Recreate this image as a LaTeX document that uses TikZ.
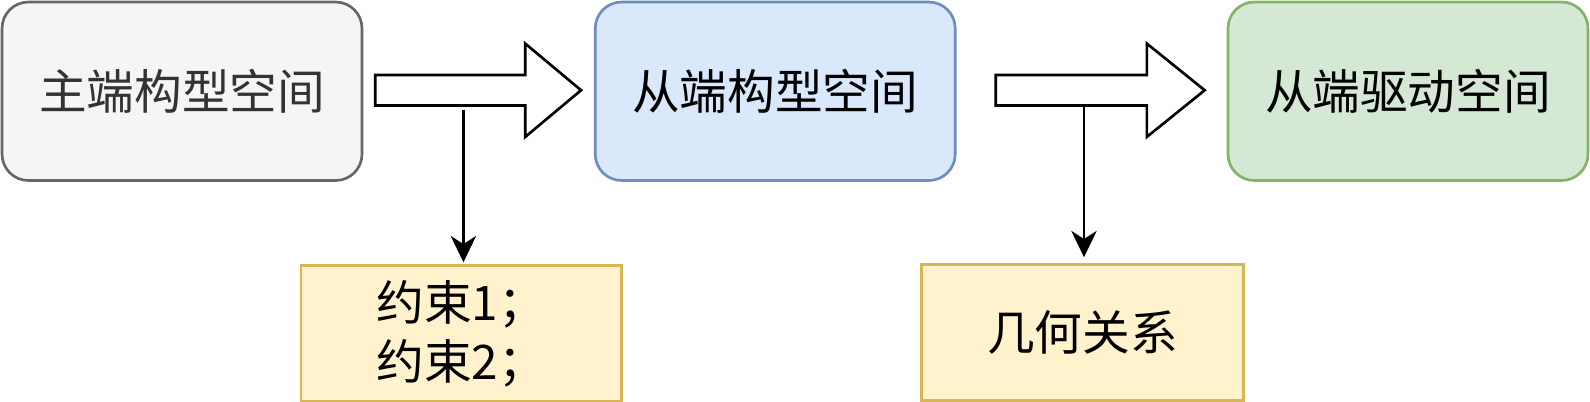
\documentclass[tikz,border=0pt]{standalone}
\usepackage{fontspec}
\setmainfont{Noto Sans CJK SC}
\usetikzlibrary{arrows.meta}
\definecolor{grayfill}{HTML}{F5F5F5}
\definecolor{graydraw}{HTML}{666666}
\definecolor{graytext}{HTML}{333333}
\definecolor{bluefill}{HTML}{DAE8FC}
\definecolor{bluedraw}{HTML}{6C8EBF}
\definecolor{greenfill}{HTML}{D5E8D4}
\definecolor{greendraw}{HTML}{82B366}
\definecolor{yellowfill}{HTML}{FFF2CC}
\definecolor{yellowdraw}{HTML}{D6B656}
\tikzset{
  spacebox/.style={draw, line width=2.6pt, rounded corners=26pt, minimum width=355pt, minimum height=176pt, inner sep=0pt, font=\fontsize{47}{57}\selectfont, align=center},
  notebox/.style={draw=yellowdraw, fill=yellowfill, line width=2.6pt, minimum width=316pt, minimum height=134pt, inner sep=0pt, font=\fontsize{47}{58}\selectfont, align=center},
  bigarrow/.style={draw, fill=white, line width=2.6pt, line join=miter},
  link/.style={line width=2.3pt, -{Stealth[length=26pt, width=25pt, inset=8pt]}}
}
\begin{document}
\begin{tikzpicture}[x=1pt,y=-1pt]
\useasboundingbox (0,0) rectangle (1568,396);
\node[spacebox, draw=graydraw, fill=grayfill, text=graytext] (master) at (179.5,90) {主端构型空间};
\node[spacebox, draw=bluedraw, fill=bluefill] (slavecfg) at (764.5,90) {从端构型空间};
\node[spacebox, draw=greendraw, fill=greenfill] (slavedrv) at (1388.5,90) {从端驱动空间};
\node[notebox] (cons) at (455,329) {约束1；\\约束2；};
\node[notebox, minimum width=317pt] (geom) at (1067.5,328) {几何关系};
% big arrows
\draw[bigarrow] (370,74) -- (518,74) -- (518,43) -- (573,89) -- (518,135) -- (518,104) -- (370,104) -- cycle;
\draw[bigarrow] (982,74) -- (1131,74) -- (1131,43) -- (1188,89) -- (1131,135) -- (1131,104) -- (982,104) -- cycle;
\coordinate (s1) at (457,108);
\coordinate (s2) at (1069,104);
\draw[link] (s1) -- ([yshift=2pt]cons.north -| s1);
\draw[link] (s2) -- ([yshift=6pt]geom.north -| s2);
\end{tikzpicture}
\end{document}
